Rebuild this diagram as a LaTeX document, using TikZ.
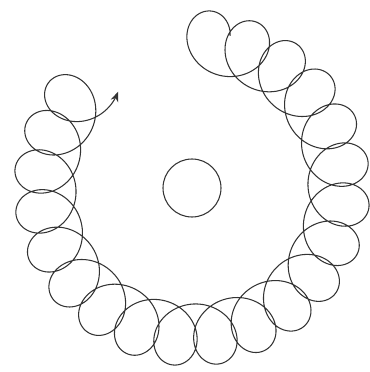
\documentclass[tikz,border=0pt]{standalone}
\usepackage{xcolor}
\usetikzlibrary{arrows.meta}
\definecolor{trazo}{HTML}{333333}
\tikzset{
  circulo/.style={draw=trazo,circle,line width=0.6pt,inner sep=0pt,minimum size=11.6mm},
  bucle/.style={draw=trazo,line width=0.6pt,-{Stealth[length=2mm,width=1.6mm]}},
}
\begin{document}
\begin{tikzpicture}
  \useasboundingbox (0,0) rectangle (7.38,7.44);
  \node[circulo] (centro) at (3.84,3.68) {};
  \draw[bucle,shift={(centro)},domain=0:312,samples=1600,variable=\t]
    plot ({2.94*cos(87-\t)+0.62*cos(10+23*\t)},{2.94*sin(87-\t)+0.62*sin(10+23*\t)});
\end{tikzpicture}
\end{document}
